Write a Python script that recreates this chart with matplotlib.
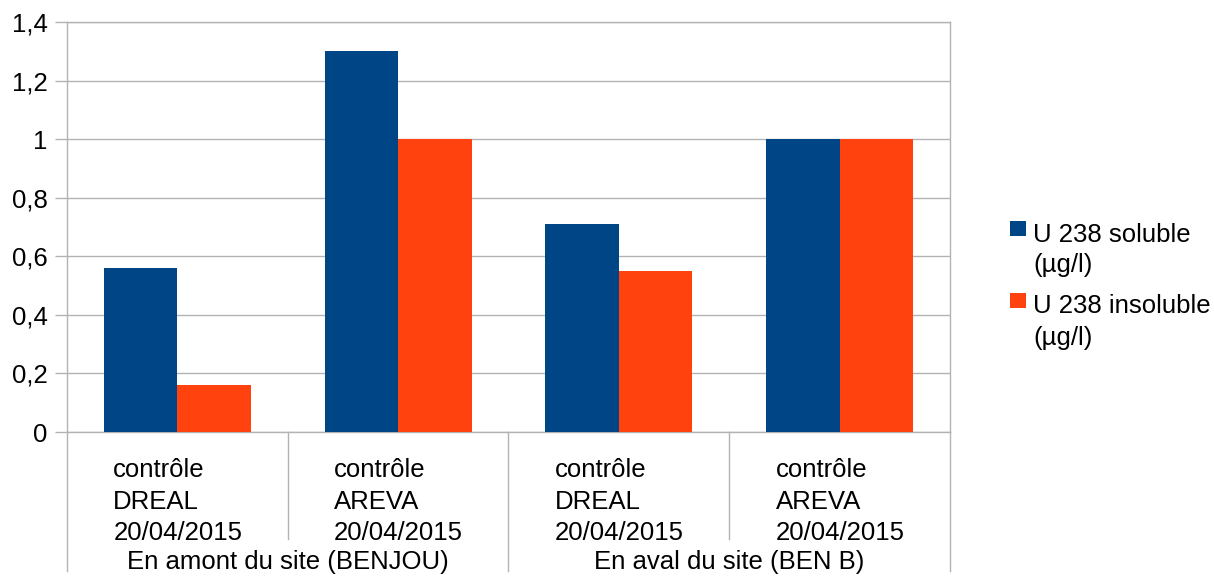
import matplotlib
matplotlib.use("Agg")
import matplotlib.pyplot as plt
import numpy as np
from matplotlib.transforms import blended_transform_factory
from matplotlib.patches import Rectangle
from matplotlib.lines import Line2D

plt.rcParams['font.family'] = ['Liberation Sans', 'DejaVu Sans']

# ---- data ----
groups = ["En amont du site (BENJOU)", "En aval du site (BEN B)"]
group_centers = [0.5, 2.5]
categories = [
    ["contrôle", "DREAL", "20/04/2015"],
    ["contrôle", "AREVA", "20/04/2015"],
    ["contrôle", "DREAL", "20/04/2015"],
    ["contrôle", "AREVA", "20/04/2015"],
]
series_names = ["U 238 soluble\n(µg/l)", "U 238 insoluble\n(µg/l)"]
soluble = [0.56, 1.30, 0.71, 1.00]
insoluble = [0.16, 1.00, 0.55, 1.00]
yticks = [0, 0.2, 0.4, 0.6, 0.8, 1.0, 1.2, 1.4]
ytick_labels = ["0", "0,2", "0,4", "0,6", "0,8", "1", "1,2", "1,4"]

colors = ["#004586", "#ff420e"]
grid_c = "#b3b3b3"
W, H = 1214, 576
FS = 18.5

fig = plt.figure(figsize=(W / 100, H / 100), dpi=100)
ax = fig.add_axes([67 / W, 1 - 432 / H, (950 - 67) / W, 410 / H])

x = np.arange(len(categories))
bw = 0.333
ax.bar(x - bw / 2, soluble, bw, color=colors[0], zorder=3)
ax.bar(x + bw / 2, insoluble, bw, color=colors[1], zorder=3)

ax.set_xlim(-0.5, len(categories) - 0.5)
ax.set_ylim(0, 1.4)
ax.set_yticks(yticks, ytick_labels)
ax.set_xticks([])
ax.tick_params(axis='y', length=8.6, width=1, color=grid_c, pad=5.5,
               labelsize=FS, labelcolor='black')
ax.yaxis.grid(True, color=grid_c, linewidth=1, zorder=0)
ax.set_axisbelow(True)
for s in ax.spines.values():
    s.set_color(grid_c)
    s.set_linewidth(1)

# category-axis separators below the plot
tr = blended_transform_factory(ax.transData, fig.transFigure)
def ypx(p):
    return 1 - p / H
for xv, ybot in [(-0.5, 571), (0.5, 539), (1.5, 571), (2.5, 539), (3.5, 571)]:
    ax.add_line(Line2D([xv, xv], [ypx(432), ypx(ybot)], transform=tr,
                       color=grid_c, linewidth=1, clip_on=False))

# category labels (left aligned, three lines)
baselines = [477, 509, 540]
for i, lines in enumerate(categories):
    for line, b in zip(lines, baselines):
        ax.text(i - 0.29, ypx(b), line, transform=tr, fontsize=FS,
                ha='left', va='baseline', clip_on=False)

# group labels
for gc, g in zip(group_centers, groups):
    ax.text(gc, ypx(569), g, transform=tr, fontsize=FS,
            ha='center', va='baseline', clip_on=False)

# legend (drawn manually to align squares with first text line)
leg_items = [(221, 242, 272), (293, 313, 345)]
for (sq_top, b1, b2), name, c in zip(leg_items, series_names, colors):
    fig.patches.append(Rectangle((1010 / W, ypx(sq_top + 15)), 16 / W, 15 / H,
                                 transform=fig.transFigure, facecolor=c,
                                 edgecolor='none'))
    l1, l2 = name.split("\n")
    fig.text(1033 / W, ypx(b1), l1, fontsize=FS, ha='left', va='baseline')
    fig.text(1033 / W, ypx(b2), l2, fontsize=FS, ha='left', va='baseline')

fig.savefig("out.png", dpi=100)
